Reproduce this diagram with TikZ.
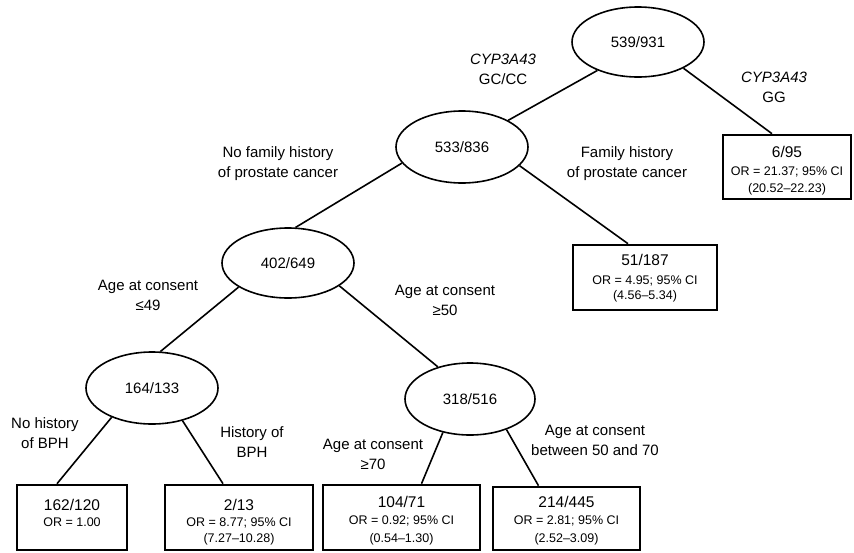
\documentclass[tikz,border=0pt]{standalone}
\usepackage{fontspec}
\setmainfont{Liberation Sans}
\usetikzlibrary{shapes.geometric}
\begin{document}
\begin{tikzpicture}[x=1pt,y=-1pt,
  split/.style={ellipse, draw, line width=1.6pt, minimum width=132pt, minimum height=70pt,
                inner sep=0pt, font=\fontsize{15}{18}\selectfont},
  leaf/.style={draw, line width=2.6pt, inner sep=0pt},
  branch/.style={line width=1.6pt},
  lbl/.style={align=center, font=\fontsize{15}{20}\selectfont, inner sep=0pt},
  count/.style={font=\fontsize{15.5}{18}\selectfont, anchor=base, inner sep=0pt},
  ratio/.style={font=\fontsize{12.5}{15}\selectfont, anchor=base, inner sep=0pt},
]
\useasboundingbox (0,0) rectangle (854,552);

% split nodes
\node[split] (n0) at (638,42) {539/931};
\node[split, minimum height=72pt] (n1) at (462,147) {533/836};
\node[split] (n2) at (288,263) {402/649};
\node[split, minimum height=72pt] (n3) at (152,388) {164/133};
\node[split, minimum width=130pt, minimum height=72pt] (n4) at (470,399) {318/516};

% terminal boxes
\node[leaf, minimum width=128pt, minimum height=64pt] (b0) at (787,167) {};
\node[leaf, minimum width=144pt, minimum height=65pt] (b1) at (645,277.5) {};
\node[leaf, minimum width=110pt, minimum height=65pt] (b2) at (72,517.5) {};
\node[leaf, minimum width=148pt, minimum height=65pt] (b3) at (239,517.5) {};
\node[leaf, minimum width=157pt, minimum height=65pt] (b4) at (401.5,517.5) {};
\node[leaf, minimum width=147pt, minimum height=63pt] (b5) at (566.5,518.5) {};

% box contents
\node[count] (b0a) at (787,157.5) {6/95};
\node[ratio] (b0b) at (787,175.5) {OR = 21.37; 95\% CI};
\node[ratio] (b0c) at (787,192.5) {(20.52–22.23)};

\node[count] (b1a) at (645,265.5) {51/187};
\node[ratio] (b1b) at (645,284.5) {OR = 4.95; 95\% CI};
\node[ratio] (b1c) at (645,299.5) {(4.56–5.34)};

\node[count] (b2a) at (72,510.5) {162/120};
\node[ratio] (b2b) at (72,526.5) {OR = 1.00};

\node[count] (b3a) at (239,510.5) {2/13};
\node[ratio] (b3b) at (239,526.5) {OR = 8.77; 95\% CI};
\node[ratio] (b3c) at (239,542.5) {(7.27–10.28)};

\node[count] (b4a) at (401.5,507.5) {104/71};
\node[ratio] (b4b) at (401.5,524.5) {OR = 0.92; 95\% CI};
\node[ratio] (b4c) at (401.5,542.5) {(0.54–1.30)};

\node[count] (b5a) at (566.5,507.5) {214/445};
\node[ratio] (b5b) at (566.5,524.5) {OR = 2.81; 95\% CI};
\node[ratio] (b5c) at (566.5,542.5) {(2.52–3.09)};

% branches
\draw[branch] (n0.215) -- (n1.30);
\draw[branch] (n0.-30) -- ([xshift=-15pt]b0.north);
\draw[branch] (n1.-18) -- ([xshift=-17pt]b1.north);
\draw[branch] (n1.195) -- (n2.78);
\draw[branch] (n2.206) -- (n3.77);
\draw[branch] (n2.-24) -- (n4.135);
\draw[branch] (n3.216) -- ([xshift=-15pt]b2.north);
\draw[branch] (n3.-47) -- ([xshift=-16pt]b3.north);
\draw[branch] (n4.231) -- ([xshift=20pt]b4.north);
\draw[branch] (n4.-40) -- ([xshift=-28pt]b5.north);

% branch labels
\node[lbl] (l0) at (503,69) {\textit{CYP3A43}\\GC/CC};
\node[lbl] (l1) at (774,87) {\textit{CYP3A43}\\GG};
\node[lbl] (l2) at (278,164) {No family history\\of prostate cancer};
\node[lbl] (l3) at (627,164) {Family history\\of prostate cancer};
\node[lbl] (l4) at (148,295) {Age at consent\\≤49};
\node[lbl] (l5) at (445,300) {Age at consent\\≥50};
\node[lbl] (l6) at (45,433) {No history\\of BPH};
\node[lbl] (l7) at (252,442) {History of\\BPH};
\node[lbl] (l8) at (373,454) {Age at consent\\≥70};
\node[lbl] (l9) at (595,440) {Age at consent\\between 50 and 70};
\end{tikzpicture}
\end{document}
